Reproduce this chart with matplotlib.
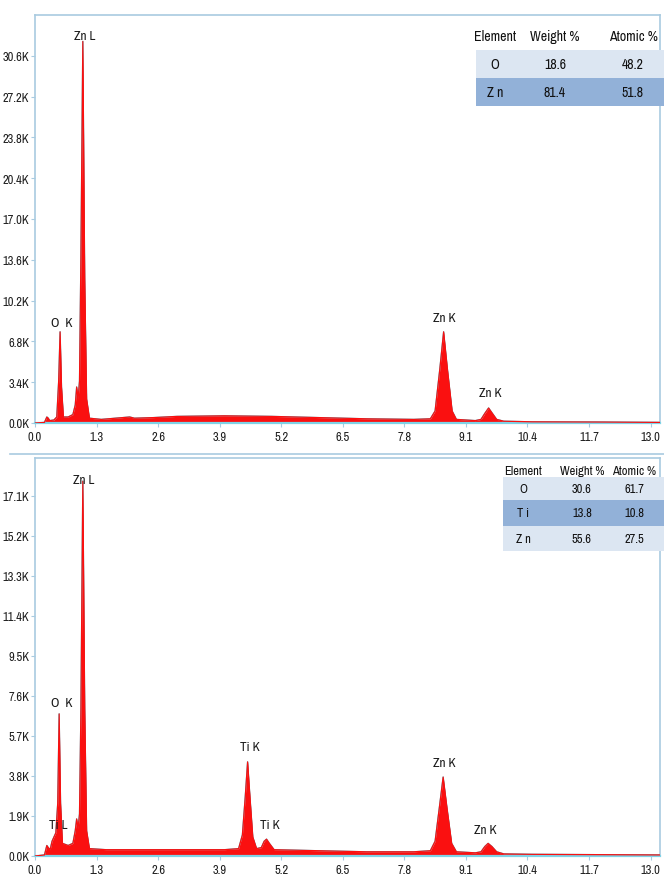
import numpy as np
import matplotlib
matplotlib.use("Agg")
import matplotlib.pyplot as plt
from matplotlib import font_manager
from matplotlib.patches import Rectangle

W, H = 664, 879

# ---- data (energy in keV, counts in K) ----
top_energy = [0.0, 0.2, 0.25, 0.28, 0.31, 0.40, 0.46, 0.50, 0.53, 0.56, 0.60, 0.70,
              0.80, 0.85, 0.88, 0.91, 0.94, 0.97, 1.01, 1.05, 1.09, 1.15, 1.4, 2.0,
              2.1, 2.5, 3.0, 4.0, 5.0, 6.0, 7.0, 8.0, 8.35, 8.45, 8.55, 8.63, 8.71,
              8.81, 8.9, 9.3, 9.42, 9.5, 9.58, 9.66, 9.75, 9.9, 10.5, 12.0, 13.2]
top_counts = [0.0, 0.05, 0.5, 0.4, 0.2, 0.25, 0.5, 3.5, 7.6, 3.0, 0.5, 0.5,
              0.7, 1.5, 3.0, 2.0, 3.5, 14.0, 31.8, 12.0, 2.0, 0.4, 0.3, 0.5,
              0.4, 0.45, 0.55, 0.6, 0.55, 0.45, 0.35, 0.3, 0.35, 1.0, 4.5, 7.6, 4.5,
              1.0, 0.3, 0.2, 0.3, 0.8, 1.25, 0.8, 0.3, 0.15, 0.1, 0.08, 0.05]

bot_energy = [0.0, 0.2, 0.25, 0.28, 0.32, 0.36, 0.40, 0.44, 0.48, 0.51, 0.54, 0.58,
              0.70, 0.80, 0.85, 0.88, 0.91, 0.94, 0.97, 1.01, 1.05, 1.09, 1.15, 1.5,
              2.0, 3.0, 4.0, 4.3, 4.38, 4.44, 4.49, 4.54, 4.6, 4.68, 4.78, 4.84, 4.89,
              4.95, 5.05, 6.0, 7.0, 8.0, 8.35, 8.45, 8.54, 8.62, 8.70, 8.80, 8.9, 9.3,
              9.42, 9.5, 9.57, 9.65, 9.75, 9.9, 10.5, 13.2]
bot_counts = [0.0, 0.05, 0.5, 0.4, 0.3, 0.7, 0.9, 1.1, 2.5, 6.75, 2.5, 0.6,
              0.5, 0.6, 1.2, 1.76, 1.3, 2.0, 7.0, 17.8, 7.0, 1.2, 0.35, 0.3,
              0.3, 0.3, 0.3, 0.35, 1.0, 2.8, 4.47, 2.8, 0.9, 0.35, 0.4, 0.7, 0.8,
              0.6, 0.3, 0.25, 0.2, 0.2, 0.25, 0.7, 2.3, 3.75, 2.3, 0.6, 0.2, 0.15,
              0.2, 0.45, 0.6, 0.45, 0.2, 0.1, 0.08, 0.05]

x_ticks = [0.0, 1.3, 2.6, 3.9, 5.2, 6.5, 7.8, 9.1, 10.4, 11.7, 13.0]
top_yticks = [0.0, 3.4, 6.8, 10.2, 13.6, 17.0, 20.4, 23.8, 27.2, 30.6]
bot_yticks = [0.0, 1.9, 3.8, 5.7, 7.6, 9.5, 11.4, 13.3, 15.2, 17.1]

# peak labels: (text, energy, counts)
top_labels = [("Zn L", 1.05, 32.3), ("O  K", 0.57, 8.4),
              ("Zn K", 8.65, 8.8), ("Zn K", 9.62, 2.5)]
bot_labels = [("Zn L", 1.03, 17.9), ("O  K", 0.57, 7.3), ("Ti L", 0.49, 1.5),
              ("Ti K", 4.54, 5.2), ("Ti K", 4.96, 1.5),
              ("Zn K", 8.65, 4.45), ("Zn K", 9.52, 1.28)]

top_table_cols = ["Element", "Weight %", "Atomic %"]
top_table_rows = [["O", "18.6", "48.2"], ["Z n", "81.4", "51.8"]]
bot_table_cols = ["Element", "Weight %", "Atomic %"]
bot_table_rows = [["O", "30.6", "61.7"], ["T i", "13.8", "10.8"], ["Z n", "55.6", "27.5"]]

FRAME = '#a9cbe0'
AXIS = '#7fd3e6'
RED = '#fa1010'
CYAN = '#19d9f0'
LIGHT_ROW = '#dce6f2'
DARK_ROW = '#92b1d8'

# the screenshot uses a narrow sans; look for one that is installed
narrow = None
for f in font_manager.fontManager.ttflist:
    if f.style != 'normal' or f.weight not in (400, 'normal', 'regular'):
        continue
    if 'Narrow' in f.name or 'Condensed' in f.name:
        narrow = (f.name, 'normal')
        break
    if f.stretch in ('condensed', 'semi-condensed') and narrow is None:
        narrow = (f.name, f.stretch)
if narrow:
    plt.rcParams['font.family'] = [narrow[0], 'DejaVu Sans']
    plt.rcParams['font.stretch'] = narrow[1]
    scale = 1.0
else:
    plt.rcParams['font.family'] = ['Liberation Sans', 'DejaVu Sans']
    scale = 0.88


def fig_box(x0, y0, x1, y1):
    """pixel box (top-left origin) -> figure rect"""
    return [x0 / W, 1 - y1 / H, (x1 - x0) / W, (y1 - y0) / H]


def draw_spectrum(ax, energy, counts, ymax, yticks, labels):
    ax.plot(energy, counts, color=CYAN, lw=0.9, zorder=1)
    ax.fill_between(energy, 0, counts, color=RED, lw=0, zorder=2)
    ax.plot(energy, counts, color=RED, lw=0.9, zorder=3)
    ax.set_xlim(0, 13.2)
    ax.set_ylim(0, ymax)
    ax.set_xticks(x_ticks)
    ax.set_xticklabels(["%.1f" % v for v in x_ticks])
    ax.set_yticks(yticks)
    ax.set_yticklabels(["%.1fK" % v for v in yticks])
    ax.tick_params(axis='both', length=3, width=0.8, color=FRAME,
                   labelsize=9 * scale, labelcolor='#1e1e1e', pad=1)
    ax.tick_params(axis='x', pad=3)
    for s in ['top', 'left', 'right']:
        ax.spines[s].set_color(FRAME)
        ax.spines[s].set_linewidth(1.2)
    ax.spines['bottom'].set_color(AXIS)
    ax.spines['bottom'].set_linewidth(1.6)
    for txt, xe, yc in labels:
        ax.text(xe, yc, txt, ha='center', va='center', fontsize=9.5 * scale,
                color='#1a1a1a', zorder=5)


def draw_table(fig, cols, rows, col_x, header_y, row_edges, x0, x1, colors, fsize):
    for i, r in enumerate(rows):
        y0, y1 = row_edges[i], row_edges[i + 1]
        fig.add_artist(Rectangle((x0 / W, 1 - y1 / H), (x1 - x0) / W, (y1 - y0) / H,
                                 transform=fig.transFigure, color=colors[i], lw=0,
                                 zorder=6))
        yc = 1 - (y0 + y1) / 2 / H
        for cx, val in zip(col_x, r):
            fig.text(cx / W, yc, val, ha='center', va='center', fontsize=fsize,
                     color='#111111', zorder=7)
    for cx, c in zip(col_x, cols):
        fig.text(cx / W, 1 - header_y / H, c, ha='center', va='center',
                 fontsize=fsize, color='#111111', zorder=7)


fig = plt.figure(figsize=(W / 100, H / 100), dpi=100)

ax1 = fig.add_axes(fig_box(35, 16, 660, 424))
draw_spectrum(ax1, top_energy, top_counts, 34.0, top_yticks, top_labels)

ax2 = fig.add_axes(fig_box(35, 459, 660, 857))
draw_spectrum(ax2, bot_energy, bot_counts, 18.9, bot_yticks, bot_labels)

# separator line between the two screenshots
fig.add_artist(plt.Line2D([10 / W, 1], [1 - 455 / H, 1 - 455 / H],
                          transform=fig.transFigure, color=FRAME, lw=1.2))

draw_table(fig, top_table_cols, top_table_rows, [495, 555, 633], 37,
           [51, 79, 107], 476, 664, [LIGHT_ROW, DARK_ROW], 10 * scale)
draw_table(fig, bot_table_cols, bot_table_rows, [523, 582, 634], 472,
           [478, 501, 527, 552], 503, 664, [LIGHT_ROW, DARK_ROW, LIGHT_ROW], 9 * scale)

fig.savefig("out.png", dpi=100)
